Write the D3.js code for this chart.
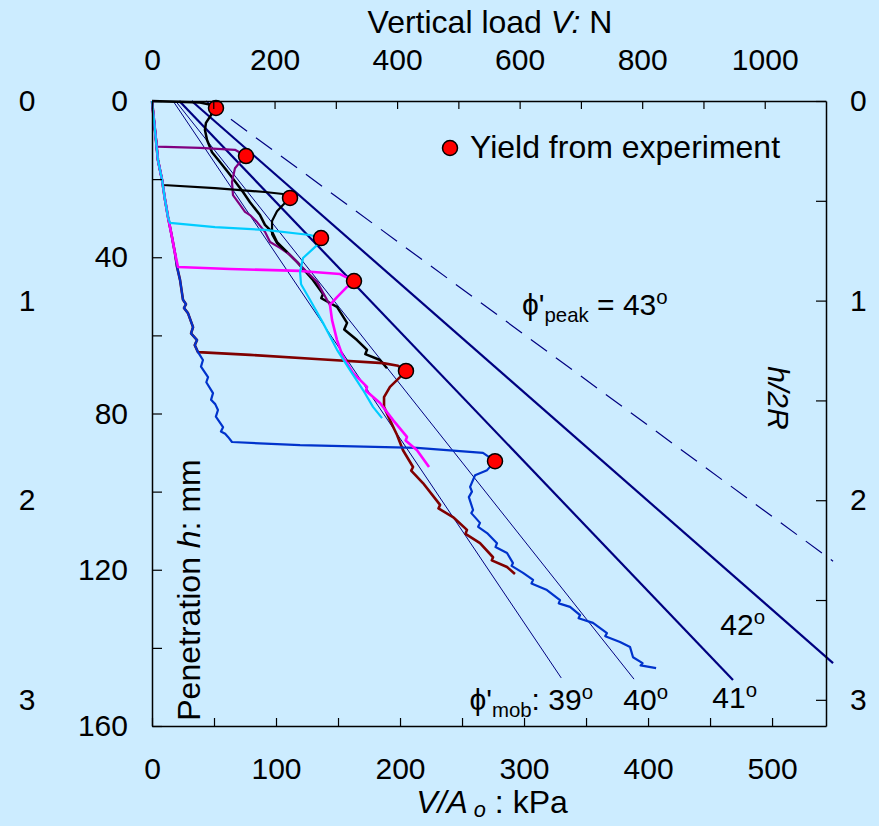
<!DOCTYPE html>
<html>
<head>
<meta charset="utf-8">
<script src="https://cdn.jsdelivr.net/npm/d3@7"></script>
<style>
  body { margin: 0; background: #CCECFF; }
  svg { display: block; font-family: "Liberation Sans", Arial, sans-serif; }
</style>
</head>
<body>
<div id="chart"></div>
<script>
var chartDiv = document.querySelector("#chart");

var width = 879;
var height = 826;
var plotLeft = 152, plotRight = 826, plotTop = 101, plotBottom = 726;

// loading branch shared by every test before the jump to yield (kPa, mm)
var branchKPa = [0, 2.4, 4.8, 8.1, 10.5, 12.9, 16.1, 18.5, 20.2, 22.6, 25.0, 27.4, 25.8, 29.0, 33.1, 31.5, 36.3, 34.5, 37.1, 41.1, 39.5, 45.2, 43.8, 49.2, 47.6, 51.0, 53.2, 51.5, 57.3, 55.6, 59.0, 61.3, 64.5];
var branchMM  = [0, 7.4, 15.1, 20.2, 25.3, 29.7, 34.8, 38.9, 42.5, 45.8, 50.9, 52.0, 53.0, 54.3, 57.9, 59.5, 61.2, 62.5, 64.3, 66.3, 68.0, 70.7, 72.0, 74.8, 76.5, 77.6, 79.1, 80.8, 83.5, 84.6, 85.2, 86.0, 87.3];

var testColors = ["#000000", "#800080", "#000000", "#00CCFF", "#FF00FF", "#800000", "#0033CC"];
var testWidths = [2.5, 2.2, 2.2, 2.2, 2.6, 2.6, 2.2];

var testKPa = [
  [0, 38.7, 48.4, 51.6, 47.6, 43.5, 42.7, 44.4, 48.4, 54.8, 62.9, 73.4, 79.0, 87.1, 91.1, 96.8, 100.8, 108.9, 116.9, 129.8, 137.9, 136.5, 149.2, 157.3, 155.0, 165.3, 173.4, 172.0, 183.9, 189.5],
  [4.0, 38.7, 66.9, 75.8, 71.0, 66.9, 64.5, 65.3, 71.0, 75.0, 79.0, 84.7, 91.1, 95.2, 103.2, 111.3, 116.9, 125.0, 133.1, 141.1, 143.5],
  [8.9, 50.8, 91.1, 105.6, 111.3, 105.6, 100.8, 96.8, 96.8, 100.8, 108.9],
  [14.5, 50.8, 91.1, 127.4, 136.3, 133.1, 121.8, 119.4, 120.2, 127.4, 137.9, 149.2, 159.7, 170.2, 178.2, 185.5],
  [21.0, 62.9, 119.4, 151.6, 162.9, 157.3, 149.2, 143.5, 145.2, 149.2, 154.0, 162.1, 173.4, 172.5, 183.9, 194.4, 205.6, 204.5, 213.7, 223.4],
  [37.1, 79.0, 135.5, 186.3, 198.4, 204.8, 200.0, 191.9, 187.1, 187.1, 191.9, 197.6, 202.4, 210.5, 209.0, 218.5, 232.3, 231.0, 242.7, 254.0, 252.8, 264.5, 275.0, 274.0, 286.3, 292.7],
  [64.5, 119.4, 213.7, 266.9, 276.6, 270.2, 260.5, 256.5, 258.0, 255.5, 258.9, 257.5, 264.5, 263.0, 270.2, 278.2, 277.0, 286.3, 291.1, 290.0, 299.2, 307.3, 306.0, 318.5, 329.0, 328.0, 337.1, 345.2, 344.0, 355.6, 366.9, 365.5, 377.4, 385.5, 387.9, 395.6, 394.0, 406.5]
];
var testMM = [
  [0, 0.4, 1.0, 1.8, 3.6, 5.6, 7.4, 10.0, 13.1, 15.6, 18.9, 23.3, 25.9, 29.2, 31.7, 33.5, 36.1, 38.7, 41.2, 45.8, 49.4, 50.5, 52.7, 56.8, 58.5, 61.2, 63.7, 64.8, 66.3, 68.4],
  [11.7, 12.0, 12.5, 14.1, 15.6, 17.2, 20.7, 24.1, 26.6, 28.4, 29.2, 31.0, 33.5, 36.1, 37.6, 39.4, 41.2, 43.8, 46.3, 50.9, 52.2],
  [21.5, 22.3, 23.3, 23.8, 24.8, 26.6, 28.2, 30.7, 34.1, 36.4, 38.7],
  [31.2, 32.3, 33.0, 34.3, 35.1, 36.9, 40.2, 43.8, 46.9, 50.9, 56.8, 63.7, 68.9, 74.0, 78.3, 81.2],
  [42.5, 43.0, 43.5, 44.3, 46.1, 47.6, 50.2, 52.2, 56.1, 61.2, 65.5, 69.6, 73.2, 74.2, 77.3, 81.7, 86.0, 86.9, 89.4, 93.7],
  [64.3, 65.0, 66.1, 67.1, 67.8, 69.1, 70.7, 73.2, 75.8, 78.3, 81.7, 85.5, 89.4, 93.7, 94.6, 97.8, 103.4, 104.3, 106.5, 109.8, 110.8, 113.2, 116.8, 117.6, 119.3, 121.1],
  [87.3, 88.1, 88.8, 90.1, 92.2, 94.5, 95.8, 98.8, 100.0, 101.4, 104.7, 105.5, 108.0, 109.0, 110.6, 113.2, 114.2, 115.7, 118.3, 119.0, 120.8, 122.6, 123.5, 125.2, 127.8, 128.6, 129.5, 131.6, 132.4, 133.6, 136.2, 137.0, 138.5, 139.8, 142.4, 143.9, 144.5, 145.2]
];

// yield points from experiment
var yieldKPa = [51.6, 75.8, 111.3, 136.3, 162.9, 204.8, 276.6];
var yieldMM  = [1.8, 14.1, 24.8, 35.1, 46.1, 69.1, 92.2];

// theoretical lines, phi'mob
var phiMob = [39, 40, 41, 42];
var mobStartKPa = [17, 19, 22, 32];
var mobEndKPa = [330, 388.7, 468.5, 549.2];
var mobEndMM = [147.7, 148, 148.2, 143.9];
var mobWidths = [1, 1, 2.2, 2.2];

// phi'peak line
var peakKPa = [43.5, 549.2];
var peakMM = [0, 117.8];

var twoR = 51.1; // mm

var svg = d3.select(chartDiv)
  .append("svg")
    .attr("width", width)
    .attr("height", height);

svg.append("rect")
  .attr("width", width)
  .attr("height", height)
  .attr("fill", "#CCECFF");

var x = d3.scaleLinear().domain([0, 543.5]).range([plotLeft, plotRight]);
var xN = d3.scaleLinear().domain([0, 1100]).range([plotLeft, plotRight]);
var y = d3.scaleLinear().domain([0, 160]).range([plotTop, plotBottom]);
var yR = d3.scaleLinear().domain([0, 160 / twoR]).range([plotTop, plotBottom]);

var line = d3.line()
  .x(function(d){ return x(d[0]); })
  .y(function(d){ return y(d[1]); });

// theoretical lines
for (var i = 0; i < phiMob.length; i++) {
  svg.append("path")
    .attr("d", line([[mobStartKPa[i], 0], [mobEndKPa[i], mobEndMM[i]]]))
    .attr("stroke", "#000080")
    .attr("stroke-width", mobWidths[i])
    .attr("fill", "none");
}
svg.append("path")
  .attr("d", line([[peakKPa[0], peakMM[0]], [peakKPa[1], peakMM[1]]]))
  .attr("stroke", "#000080")
  .attr("stroke-width", 1.2)
  .attr("stroke-dasharray", "20,11")
  .attr("fill", "none");

// test curves
var drawOrder = [0, 1, 2, 5, 6, 4, 3];
drawOrder.forEach(function(t) {
  var pts = [];
  var h0 = testMM[t][0];
  for (var j = 0; j < branchMM.length; j++) {
    if (branchMM[j] < h0) pts.push([branchKPa[j], branchMM[j]]);
  }
  for (var k = 0; k < testKPa[t].length; k++) {
    pts.push([testKPa[t][k], testMM[t][k]]);
  }
  svg.append("path")
    .attr("d", line(pts))
    .attr("stroke", testColors[t])
    .attr("stroke-width", testWidths[t])
    .attr("stroke-linejoin", "round")
    .attr("fill", "none");
});

svg.append("g")
  .selectAll("circle")
  .data(yieldKPa)
  .enter()
  .append("circle")
    .attr("cx", function(d){ return x(d); })
    .attr("cy", function(d, i){ return y(yieldMM[i]); })
    .attr("r", 7.5)
    .attr("fill", "#FF0000")
    .attr("stroke", "#000000")
    .attr("stroke-width", 1.5);

// axes
function styleAxis(g, size) {
  g.attr("font-family", null).attr("font-size", size);
  g.selectAll("text").attr("fill", "#000");
  g.selectAll("line").attr("stroke", "#000").attr("stroke-width", 1.2);
  g.select(".domain").attr("stroke", "#000").attr("stroke-width", 1.5);
}

var bottomAxis = svg.append("g")
  .attr("transform", "translate(0," + plotBottom + ")")
  .call(d3.axisBottom(x).tickValues(d3.range(0, 543, 50)).tickSizeInner(-8).tickSizeOuter(0).tickPadding(32)
    .tickFormat(function(d){ return d % 100 ? "" : d; }));
styleAxis(bottomAxis, 30);

var topAxis = svg.append("g")
  .attr("transform", "translate(0," + plotTop + ")")
  .call(d3.axisTop(xN).tickValues(d3.range(0, 1100, 100)).tickSizeInner(-8).tickSizeOuter(0).tickPadding(31)
    .tickFormat(function(d){ return d % 200 ? "" : d; }));
styleAxis(topAxis, 30);

var leftAxis = svg.append("g")
  .attr("transform", "translate(" + plotLeft + ",0)")
  .call(d3.axisLeft(y).tickValues(d3.range(0, 161, 20)).tickSizeInner(-10).tickSizeOuter(0).tickPadding(24)
    .tickFormat(function(d){ return d % 40 ? "" : d; }));
styleAxis(leftAxis, 30);

var rightAxis = svg.append("g")
  .attr("transform", "translate(" + plotRight + ",0)")
  .call(d3.axisRight(yR).tickValues([0, 0.5, 1, 1.5, 2, 2.5, 3]).tickSizeInner(-10).tickSizeOuter(0).tickPadding(24)
    .tickFormat(function(d){ return d % 1 ? "" : d; }));
styleAxis(rightAxis, 30);

var outerAxis = svg.append("g")
  .attr("transform", "translate(27,0)")
  .call(d3.axisLeft(yR).tickValues([0, 1, 2, 3]).tickSize(0).tickPadding(0).tickFormat(d3.format("d")));
styleAxis(outerAxis, 30);
outerAxis.select(".domain").remove();
outerAxis.selectAll("text").attr("text-anchor", "middle");

// texts
function label(x0, y0, parts, size, anchor, transform, subShift) {
  var t = svg.append("text")
    .attr("x", x0)
    .attr("y", y0)
    .attr("font-size", size)
    .attr("text-anchor", anchor || "start");
  if (transform) t.attr("transform", transform);
  var shift = 0;
  parts.forEach(function(p) {
    var kind = p[1] || "";
    var s = t.append("tspan").text(p[0]);
    var target = 0;
    if (kind.indexOf("sub") >= 0) target = size * (subShift || 0.24);
    if (kind.indexOf("sup") >= 0) target = -size * 0.38;
    if (target !== shift) { s.attr("dy", target - shift); shift = target; }
    if (target !== 0) s.attr("font-size", size * 0.68);
    if (kind.charAt(0) === "i") s.attr("font-style", "italic");
  });
  return t;
}

label(490, 33, [["Vertical load "], ["V:", "i"], [" N"]], 32, "middle");
label(492, 813, [["V/A", "i"], [" o", "isub"], [" : kPa"]], 32, "middle", null, 0.14);
label(0, 0, [["Penetration "], ["h", "i"], [": mm"]], 32, "middle", "translate(200,590) rotate(-90)");
label(0, 0, [["h/2R", "i"]], 30, "middle", "translate(768,398) rotate(90)");

label(593, 710, [["\u03D5'"], ["mob", "sub"], [": 39"], ["o", "sup"]], 30, "end");
label(668, 710, [["40"], ["o", "sup"]], 30, "end");
label(757, 708, [["41"], ["o", "sup"]], 30, "end");
label(765, 635, [["42"], ["o", "sup"]], 30, "end");
label(522, 315, [["\u03D5'"], ["peak", "sub"], [" = 43"], ["o", "sup"]], 30, "start");

// legend
svg.append("circle")
  .attr("cx", 450)
  .attr("cy", 148)
  .attr("r", 7.5)
  .attr("fill", "#FF0000")
  .attr("stroke", "#000000")
  .attr("stroke-width", 1.5);
label(470, 158, [["Yield from experiment"]], 32, "start");
</script>
</body>
</html>
